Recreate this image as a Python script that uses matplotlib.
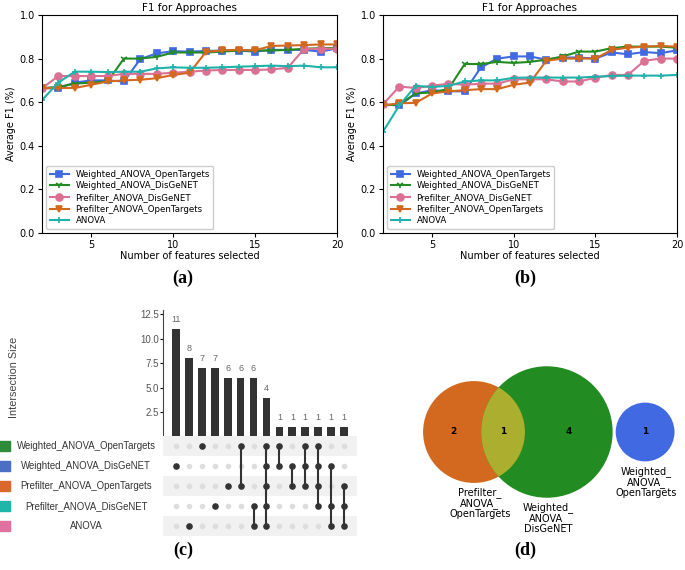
import numpy as np
import matplotlib.pyplot as plt
from matplotlib.patches import Circle

W, H = 685, 570

# ---- data: F1 curves ----
n_features = list(range(2, 21))
series_names = ["Weighted_ANOVA_OpenTargets", "Weighted_ANOVA_DisGeNET",
                "Prefilter_ANOVA_DisGeNET", "Prefilter_ANOVA_OpenTargets", "ANOVA"]

a_w_ot = [0.664, 0.664, 0.690, 0.700, 0.700, 0.695, 0.798, 0.824, 0.834, 0.832, 0.835,
          0.837, 0.837, 0.832, 0.840, 0.840, 0.840, 0.832, 0.847]
a_w_dg = [0.665, 0.670, 0.685, 0.690, 0.695, 0.800, 0.800, 0.808, 0.828, 0.828, 0.828,
          0.832, 0.837, 0.837, 0.837, 0.840, 0.845, 0.848, 0.848]
a_p_dg = [0.664, 0.720, 0.720, 0.720, 0.720, 0.730, 0.730, 0.730, 0.735, 0.740, 0.745,
          0.748, 0.748, 0.748, 0.750, 0.758, 0.845, 0.845, 0.845]
a_p_ot = [0.665, 0.665, 0.665, 0.680, 0.695, 0.700, 0.703, 0.710, 0.725, 0.735, 0.830,
          0.838, 0.840, 0.838, 0.858, 0.860, 0.862, 0.865, 0.865]
a_anova = [0.610, 0.690, 0.740, 0.740, 0.738, 0.740, 0.740, 0.755, 0.760, 0.758, 0.758,
           0.760, 0.763, 0.765, 0.768, 0.765, 0.768, 0.760, 0.760]

b_w_ot = [0.590, 0.585, 0.640, 0.655, 0.650, 0.650, 0.760, 0.800, 0.810, 0.810, 0.795,
          0.805, 0.805, 0.800, 0.828, 0.820, 0.830, 0.825, 0.838]
b_w_dg = [0.585, 0.590, 0.640, 0.645, 0.660, 0.775, 0.775, 0.785, 0.780, 0.785, 0.795,
          0.810, 0.832, 0.832, 0.848, 0.855, 0.855, 0.855, 0.850]
b_p_dg = [0.590, 0.672, 0.665, 0.675, 0.685, 0.680, 0.685, 0.685, 0.705, 0.705, 0.705,
          0.695, 0.695, 0.712, 0.725, 0.725, 0.790, 0.800, 0.800]
b_p_ot = [0.585, 0.595, 0.597, 0.640, 0.650, 0.655, 0.660, 0.660, 0.680, 0.690, 0.790,
          0.800, 0.800, 0.800, 0.840, 0.850, 0.855, 0.858, 0.855]
b_anova = [0.465, 0.585, 0.675, 0.670, 0.675, 0.695, 0.700, 0.700, 0.712, 0.713, 0.713,
           0.713, 0.713, 0.717, 0.720, 0.722, 0.722, 0.722, 0.725]

# ---- data: upset ----
set_names = ["Weighted_ANOVA_OpenTargets", "Weighted_ANOVA_DisGeNET",
             "Prefilter_ANOVA_OpenTargets", "Prefilter_ANOVA_DisGeNET", "ANOVA"]
intersection_sizes = [11, 8, 7, 7, 6, 6, 6, 4, 1, 1, 1, 1, 1, 1]
intersection_members = [[1], [4], [0], [3], [2], [0, 2], [3, 4], [0, 1, 2, 3, 4],
                        [0, 1], [1, 2], [0, 1, 2], [0, 1, 2, 3], [1, 3, 4], [2, 3, 4]]

# ---- data: venn ----
venn_only_pot = 2
venn_both = 1
venn_only_wdg = 4
venn_wot = 1

colors = ["royalblue", "forestgreen", "palevioletred", "chocolate", "lightseagreen"]
markers = ["s", "1", "o", "v", "+"]
set_colors = ["#2e8b3a", "#4a6fc4", "#d9692a", "#1fb5a8", "#e0709e"]


def rect(l, t, r, b):
    return [l / W, 1 - b / H, (r - l) / W, (b - t) / H]


fig = plt.figure(figsize=(W / 100, H / 100), dpi=100)


def f1_panel(box, data):
    ax = fig.add_axes(rect(*box))
    for vals, c, m, name in zip(data, colors, markers, series_names):
        ax.plot(n_features, vals, color=c, marker=m, lw=1.5, ms=5, mew=1.2, label=name)
    ax.set_xlim(2, 20)
    ax.set_ylim(0, 1)
    ax.set_xticks([5, 10, 15, 20])
    ax.set_yticks(np.arange(0, 1.01, 0.2))
    ax.tick_params(labelsize=7, length=3, pad=2)
    ax.set_title("F1 for Approaches", fontsize=7.5, pad=3)
    ax.set_xlabel("Number of features selected", fontsize=7, labelpad=1)
    ax.set_ylabel("Average F1 (%)", fontsize=7, labelpad=3)
    ax.legend(loc="lower left", fontsize=6.2, labelspacing=0.3, handlelength=2.2,
              borderpad=0.4, framealpha=1)
    return ax


f1_panel((42, 15, 337, 233), [a_w_ot, a_w_dg, a_p_dg, a_p_ot, a_anova])
f1_panel((383, 15, 677, 233), [b_w_ot, b_w_dg, b_p_dg, b_p_ot, b_anova])

# ---- upset: bars ----
xs = np.arange(len(intersection_sizes))
axb = fig.add_axes(rect(163, 310, 357, 437))
axb.bar(xs, intersection_sizes, width=0.6, color="#333333")
for x, v in zip(xs, intersection_sizes):
    axb.text(x, v + 0.5, str(v), ha="center", va="bottom", fontsize=6.5, color="#666666",
             family="Liberation Sans")
axb.set_xlim(-1, 14)
axb.set_ylim(0, 12.9)
axb.set_yticks([2.5, 5.0, 7.5, 10.0, 12.5])
axb.set_xticks([])
for s in ["top", "right", "bottom"]:
    axb.spines[s].set_visible(False)
axb.spines["left"].set_color("#444444")
axb.tick_params(labelsize=7, labelcolor="#555555", length=2, pad=1)
for t in axb.get_yticklabels():
    t.set_family("Liberation Sans")
axb.set_ylabel("Intersection Size", fontsize=7.8, color="#444444", family="Liberation Sans")
axb.yaxis.set_label_coords(-0.74, 0.47)

# ---- upset: matrix ----
axm = fig.add_axes(rect(163, 436, 357, 536))
axm.set_xlim(-1, 14)
axm.set_ylim(4.5, -0.5)
for r in [0, 2, 4]:
    axm.axhspan(r - 0.5, r + 0.5, color="#f1f1f1", lw=0)
for x in xs:
    axm.scatter([x] * 5, range(5), s=9, color="#dddddd", zorder=2)
for x, mem in zip(xs, intersection_members):
    if len(mem) > 1:
        axm.plot([x, x], [min(mem), max(mem)], color="#333333", lw=1.5, zorder=3)
    axm.scatter([x] * len(mem), mem, s=14, color="#333333", zorder=4)
axm.axis("off")

# ---- upset: set labels ----
axl = fig.add_axes(rect(0, 436, 163, 536))
axl.set_xlim(0, 1)
axl.set_ylim(4.5, -0.5)
for i, (name, c) in enumerate(zip(set_names, set_colors)):
    axl.scatter(0.03, i, marker="s", s=45, color=c)
    axl.text(0.53, i, name, ha="center", va="center", fontsize=6.9, color="#333333",
             family="Liberation Sans")
axl.axis("off")

# ---- venn ----
k = 29.4  # px per unit radius
axv = fig.add_axes(rect(360, 360, 685, 560))
axv.set_xlim((360 - 474) / k, (685 - 474) / k)
axv.set_ylim(-(560 - 432) / k, (432 - 360) / k)
axv.axis("off")
r_pot = np.sqrt(venn_only_pot + venn_both)
r_wdg = np.sqrt(venn_only_wdg + venn_both)
r_wot = np.sqrt(venn_wot)
c_pot, c_wdg, c_wot = (0.0, 0.0), (2.48, 0.0), (5.82, 0.0)
p_pot = Circle(c_pot, r_pot, color="#d2691e", lw=0)
p_wdg = Circle(c_wdg, r_wdg, color="#228b22", lw=0)
axv.add_patch(p_pot)
axv.add_patch(p_wdg)
p_ov = Circle(c_wdg, r_wdg, color="#acae30", lw=0)
axv.add_patch(p_ov)
p_ov.set_clip_path(p_pot)
axv.add_patch(Circle(c_wot, r_wot, color="#4169e1", lw=0))
vt = dict(ha="center", va="center", fontsize=6.5, fontweight="bold")
axv.text(-0.71, 0, str(venn_only_pot), **vt)
axv.text(0.99, 0, str(venn_both), **vt)
axv.text(3.23, 0, str(venn_only_wdg), **vt)
axv.text(5.82, 0, str(venn_wot), **vt)
lt = dict(ha="center", va="center", fontsize=7, linespacing=1.0)
axv.text(0.2, -2.41, "Prefilter_\nANOVA_\nOpenTargets", **lt)
axv.text(2.52, -2.93, "Weighted_\nANOVA_\nDisGeNET", **lt)
axv.text(5.85, -1.70, "Weighted_\nANOVA_\nOpenTargets", **lt)

# ---- panel letters ----
for lab, x, y in [("(a)", 183, 278), ("(b)", 525, 278), ("(c)", 183, 550), ("(d)", 525, 550)]:
    fig.text(x / W, 1 - y / H, lab, ha="center", va="center", fontsize=13,
             fontweight="bold", family="Liberation Serif")

plt.savefig("out.png", dpi=100)
